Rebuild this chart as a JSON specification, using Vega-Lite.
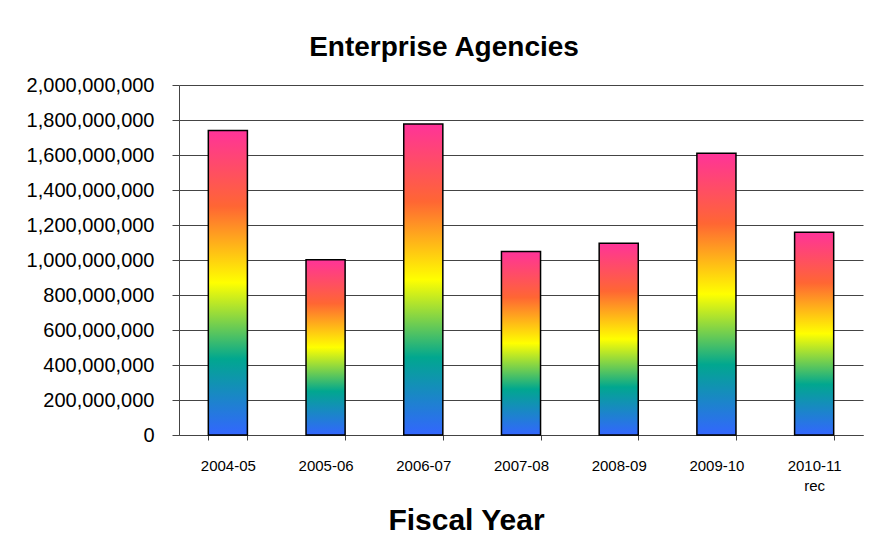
{
  "$schema": "https://vega.github.io/schema/vega-lite/v6.json",
  "width": 684,
  "height": 350,
  "autosize": "none",
  "padding": {"left": 179, "top": 85, "right": 12, "bottom": 114},
  "background": "white",
  "config": {"view": {"stroke": null}, "font": "Liberation Sans"},
  "title": {"text": "Enterprise Agencies", "fontSize": 28, "fontWeight": "bold", "font": "Liberation Sans", "color": "black", "anchor": "middle", "dx": -77, "offset": 13},
  "data": {"values": [
    {"year": "2004-05", "value": 1740000000},
    {"year": "2005-06", "value": 1002000000},
    {"year": "2006-07", "value": 1777000000},
    {"year": "2007-08", "value": 1048000000},
    {"year": "2008-09", "value": 1096000000},
    {"year": "2009-10", "value": 1610000000},
    {"year": "2010-11 rec", "value": 1158000000}
  ]},
  "mark": {
    "type": "bar",
    "stroke": "black",
    "strokeWidth": 1.5,
    "fill": {
      "gradient": "linear", "x1": 0, "y1": 1, "x2": 0, "y2": 0,
      "stops": [
        {"offset": 0, "color": "#3366FF"},
        {"offset": 0.25, "color": "#01A78F"},
        {"offset": 0.5, "color": "#FFFF00"},
        {"offset": 0.75, "color": "#FF6633"},
        {"offset": 1, "color": "#FF3399"}
      ]
    }
  },
  "encoding": {
    "x": {
      "field": "year", "type": "nominal", "sort": null,
      "scale": {"paddingInner": 0.6, "paddingOuter": 0.3},
      "axis": {
        "title": "Fiscal Year", "titleFontSize": 30, "titleFontWeight": "bold", "titleColor": "black",
        "titleX": 287, "titleY": 94, "titleBaseline": "alphabetic", "titleAlign": "center",
        "labelAngle": 0, "labelFontSize": 15, "labelColor": "black", "labelPadding": 18,
        "labelExpr": "split(datum.label, ' ')", "labelLineHeight": 20,
        "tickBand": "extent", "tickSize": 5, "tickColor": "#444", "domainColor": "#444", "grid": false
      }
    },
    "y": {
      "field": "value", "type": "quantitative",
      "scale": {"domain": [0, 2000000000], "nice": false},
      "axis": {
        "title": null, "format": ",.0f",
        "values": [0, 200000000, 400000000, 600000000, 800000000, 1000000000, 1200000000, 1400000000, 1600000000, 1800000000, 2000000000],
        "labelFontSize": 20, "labelColor": "black", "labelPadding": 18, "tickSize": 7,
        "tickColor": "#444", "domainColor": "#444", "gridColor": "#444", "gridOpacity": 1
      }
    }
  }
}
